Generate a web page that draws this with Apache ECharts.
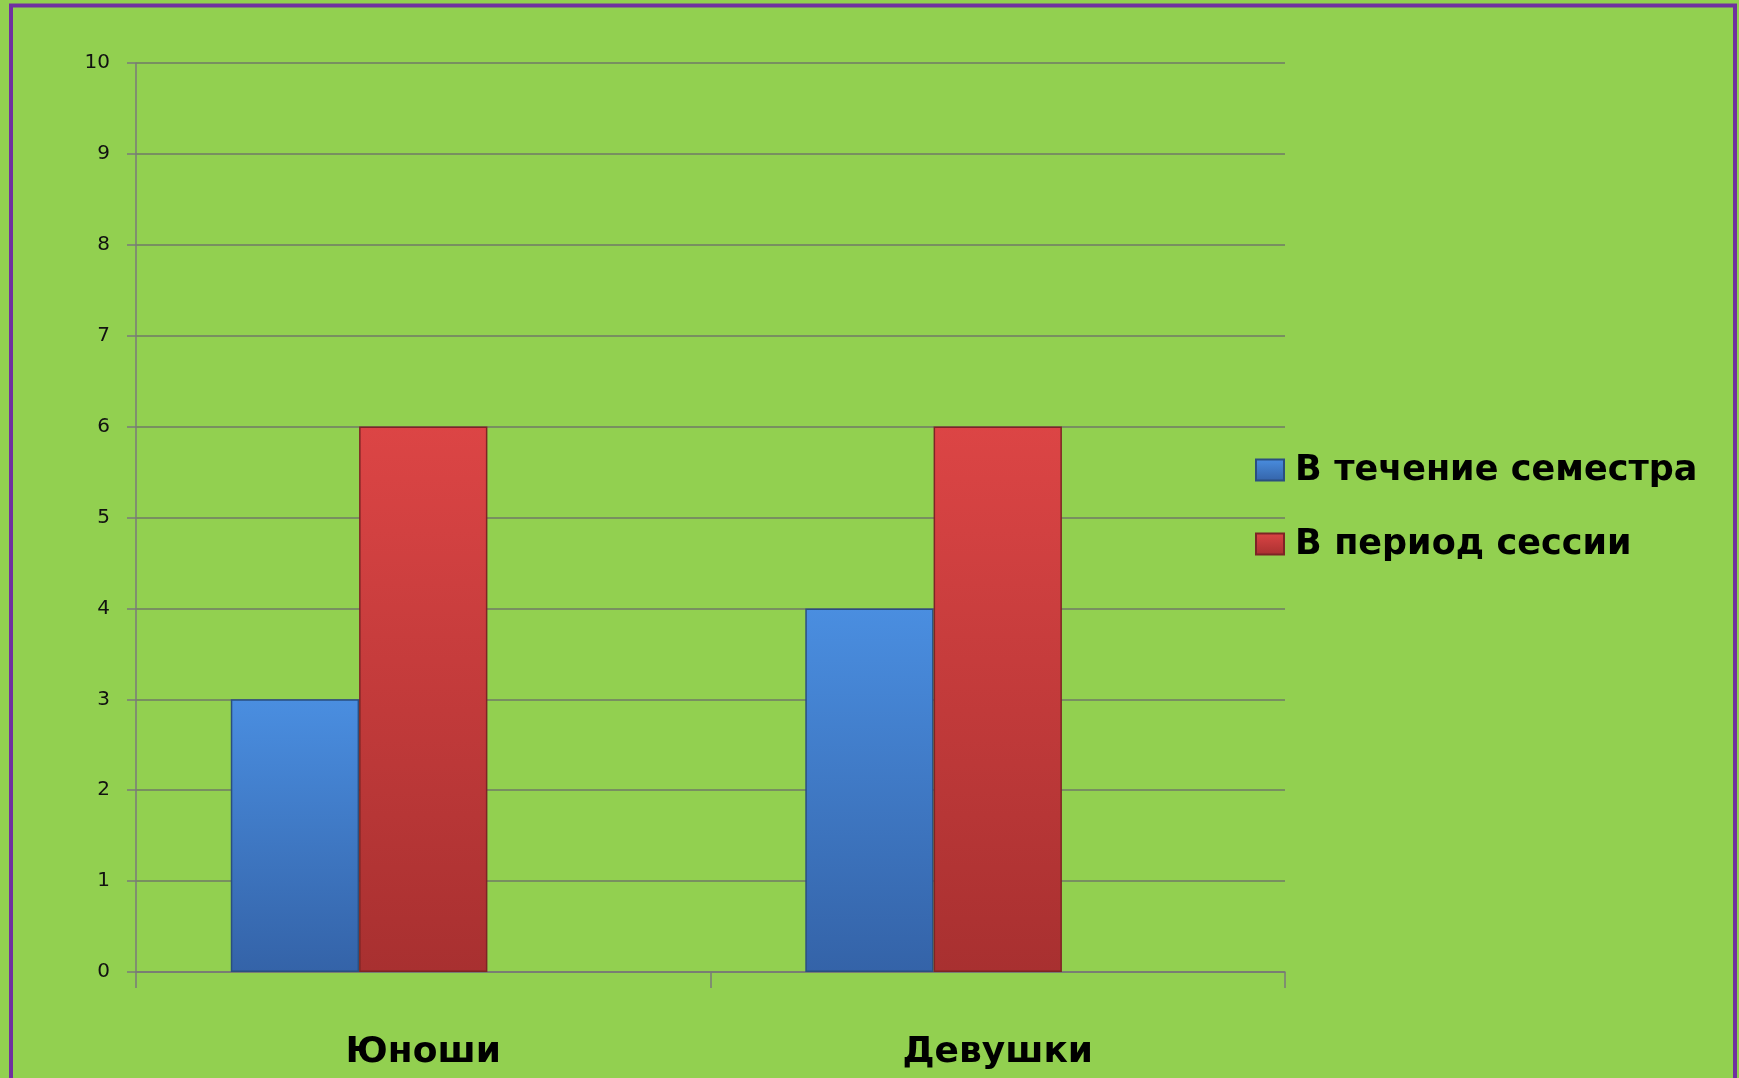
<!DOCTYPE html>
<html>
<head>
<meta charset="utf-8">
<script src="https://cdn.jsdelivr.net/npm/echarts@6/dist/echarts.min.js"></script>
<style>
html,body{margin:0;padding:0;background:#92D050;}
#chart{width:1739px;height:1078px;}
</style>
</head>
<body>
<div id="chart"></div>
<script>
var categories = ['Юноши', 'Девушки'];
var seriesNames = ['В течение семестра', 'В период сессии'];
var semesterValues = [3, 4];
var sessionValues = [6, 6];
var emptyValues = [null, null];
var yTicks = [0, 10, 1];

var chart = echarts.init(document.getElementById('chart'));
var comic = '"Comic Sans MS", "Comic Neue", "DejaVu Sans", sans-serif';
function grad(top, bottom) {
  return new echarts.graphic.LinearGradient(0, 0, 0, 1, [
    {offset: 0, color: top}, {offset: 1, color: bottom}
  ]);
}
chart.setOption({
  backgroundColor: '#92D050',
  animation: false,
  graphic: [{
    type: 'rect', shape: {x: 11, y: 5.5, width: 1724, height: 1120},
    style: {fill: 'none', stroke: '#7030A0', lineWidth: 4}, z: 100
  }],
  grid: {left: 136, right: 454, top: 63, bottom: 106},
  legend: {
    data: seriesNames,
    orient: 'vertical',
    left: 1250, top: 443,
    itemWidth: 28, itemHeight: 21, itemGap: 30,
    textStyle: {fontFamily: comic, fontWeight: 'bold', fontSize: 35, color: '#000', lineHeight: 44, padding: [0,0,0,6]},
    icon: 'rect'
  },
  xAxis: {
    type: 'category', data: categories,
    axisLine: {lineStyle: {color: '#7a7a7a', width: 1.5}},
    axisTick: {show: true, length: 16, lineStyle: {color: '#7a7a7a', width: 1.5}},
    axisLabel: {fontFamily: comic, fontWeight: 'bold', fontSize: 36, color: '#000', margin: 62}
  },
  yAxis: {
    type: 'value', min: yTicks[0], max: yTicks[1], interval: yTicks[2],
    axisLine: {show: true, lineStyle: {color: '#7a7a7a', width: 1.5}},
    axisTick: {show: true, length: 9, lineStyle: {color: '#7a7a7a', width: 1.5}},
    axisLabel: {fontFamily: '"DejaVu Sans", sans-serif', fontSize: 20, color: '#111', margin: 26},
    splitLine: {lineStyle: {color: '#6f7a66', width: 1.5}}
  },
  series: [
    {name: seriesNames[0], type: 'bar', data: semesterValues, barGap: '0%', barCategoryGap: '33%',
     itemStyle: {color: grad('#4a8ee0', '#3463a8'), borderColor: '#2a4f80', borderWidth: 1.5}},
    {name: seriesNames[1], type: 'bar', data: sessionValues,
     itemStyle: {color: grad('#dc4545', '#a83030'), borderColor: '#7d2525', borderWidth: 1.5}},
    {name: '', type: 'bar', data: emptyValues}
  ]
});
</script>
</body>
</html>
